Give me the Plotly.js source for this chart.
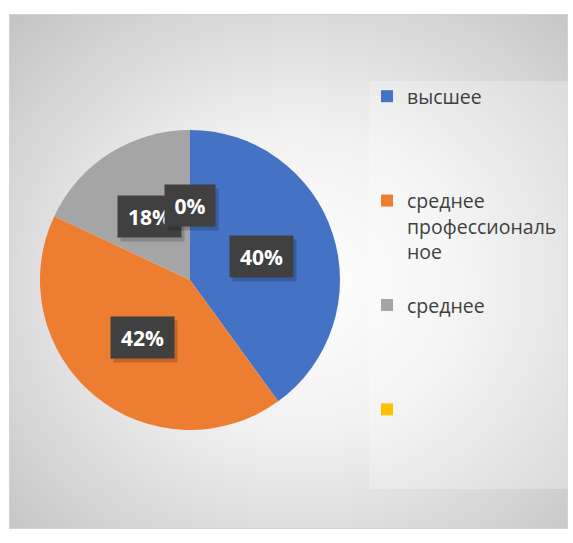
<!DOCTYPE html>
<html><head><meta charset="utf-8">
<script src="https://cdn.plot.ly/plotly-3.0.1.min.js"></script>
<style>
html,body{margin:0;padding:0;background:#fff;overflow:hidden;}
#frame{position:absolute;left:9px;top:14px;width:557px;height:513px;border:1px solid #d2d2d2;
 background:radial-gradient(ellipse farthest-corner at 52% 52%, #ffffff 0%, #f1f1f1 40%, #c3c3c3 100%);}
#chart{position:absolute;left:0;top:0;width:573px;height:543px;}
</style></head><body>
<div id="frame"></div><div id="chart"></div>
<script>
// --- data ---
const categories = ['высшее', 'среднее профессиональное', 'среднее', ''];
const legendLabels = ['высшее', 'среднее<br>профессиональ<br>ное', 'среднее', ''];
const values = [40, 42, 18, 0];
const colors = ['#4472C4', '#ED7D31', '#A5A5A5', '#FFC000'];

// --- layout helpers ---
const W = 573, H = 543;
const cx = 190, cy = 280, R = 150;
const total = values.reduce((a, b) => a + b, 0);

// pad legend entries to equal line counts so entries are evenly spaced
const LINES = 4;
const paddedLabels = legendLabels.map(l => {
  const n = l.split('<br>').length;
  let s = l === '' ? ' ' : l;
  for (let k = n; k < LINES; k++) s += '<br> ';
  return s;
});

const trace = {
  type: 'pie',
  labels: paddedLabels,
  values: values,
  sort: false,
  direction: 'clockwise',
  rotation: 0,
  textinfo: 'none',
  hoverinfo: 'none',
  marker: {colors: colors, line: {color: 'rgba(255,255,255,0.7)', width: 0}},
  domain: {x: [(cx - R) / W, (cx + R) / W], y: [(H - cy - R) / H, (H - cy + R) / H]}
};

// data labels: percentage at mid-angle, half radius
const annotations = [];
let cum = 0;
values.forEach((v, i) => {
  const a = (cum + v / 2) / total * 2 * Math.PI;
  cum += v;
  const px = cx + 0.5 * R * Math.sin(a);
  const py = cy - 0.5 * R * Math.cos(a);
  const txt = Math.round(v / total * 100) + '%';
  const w = 24 + 13 * txt.length;
  const base = {x: px / W, y: 1 - py / H, xref: 'paper', yref: 'paper', showarrow: false,
    xanchor: 'center', yanchor: 'middle', width: w, height: 41, borderpad: 0};
  annotations.push(Object.assign({}, base, {text: ' ', xshift: 3, yshift: -4,
    bgcolor: 'rgba(0,0,0,0.18)', font: {family: 'Open Sans', size: 21, color: 'rgba(0,0,0,0)'}}));
  annotations.push(Object.assign({}, base, {text: '<b>' + txt + '</b>',
    bgcolor: '#404040', font: {family: 'Open Sans', size: 21, color: '#ffffff'}}));
});

const layout = {
  width: W, height: H,
  margin: {l: 0, r: 0, t: 0, b: 0},
  paper_bgcolor: 'rgba(0,0,0,0)',
  plot_bgcolor: 'rgba(0,0,0,0)',
  showlegend: true,
  legend: {x: 367 / W, xanchor: 'left', y: 1 - 77 / H, yanchor: 'top',
    valign: 'top', bgcolor: 'rgba(0,0,0,0)', traceorder: 'normal',
    font: {family: 'Open Sans', size: 19.5, color: '#404040'}},
  shapes: [{type: 'rect', xref: 'paper', yref: 'paper', layer: 'below',
    x0: 369 / W, x1: 568 / W, y0: 1 - 489 / H, y1: 1 - 81 / H,
    fillcolor: 'rgba(255,255,255,0.25)', line: {width: 0}}],
  annotations: annotations
};

Plotly.newPlot('chart', [trace], layout, {displayModeBar: false, staticPlot: true});
</script>
</body></html>
